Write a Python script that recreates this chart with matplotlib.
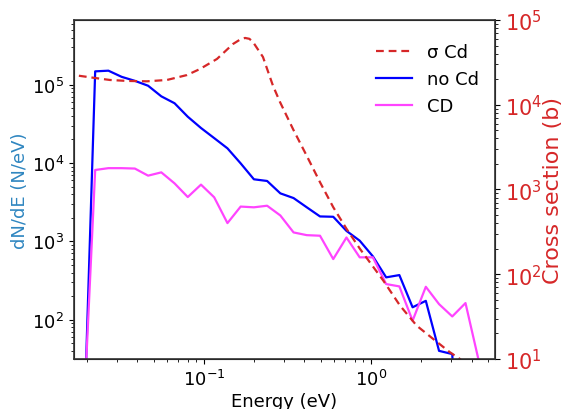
import matplotlib
matplotlib.use("Agg")
import matplotlib.pyplot as plt

# energy bins (eV)
energy = [0.01861, 0.02233, 0.02680, 0.03216, 0.03859, 0.04631, 0.05557,
          0.06668, 0.08002, 0.09602, 0.1152, 0.1383, 0.1659, 0.1991,
          0.2389, 0.2867, 0.3440, 0.4128, 0.4954, 0.5945, 0.7134, 0.8561,
          1.027, 1.233, 1.479, 1.775, 2.130, 2.556, 3.067, 3.681, 4.417]

# dN/dE without cadmium
no_cd = [0.6, 1.48e5, 1.51e5, 1.26e5, 1.12e5, 9.7e4, 7.1e4, 5.8e4, 3.9e4,
         2.8e4, 2.08e4, 1.54e4, 9.9e3, 6.2e3, 5.9e3, 4.1e3, 3.57e3, 2.72e3,
         2.08e3, 2.06e3, 1.36e3, 1.02e3, 643, 347, 371, 144, 174, 40, 36.4,
         0.01, 0.01]

# dN/dE with cadmium
cd = [2.0, 8.15e3, 8.6e3, 8.6e3, 8.5e3, 6.9e3, 7.6e3, 5.5e3, 3.68e3, 5.3e3,
      3.65e3, 1.71e3, 2.78e3, 2.72e3, 2.85e3, 2.14e3, 1.30e3, 1.2e3, 1.18e3,
      594, 1.12e3, 625, 625, 285, 266, 97, 263, 158, 110, 163, 30]

# Cd total cross section (barn)
xs_energy = [0.015, 0.01667, 0.02223, 0.02735, 0.03459, 0.0456, 0.06003,
             0.0791, 0.09466, 0.1197, 0.1493, 0.1640, 0.1762, 0.1870, 0.1966,
             0.2256, 0.2589, 0.2851, 0.3425, 0.4121, 0.4955, 0.5947, 0.7149,
             0.8596, 1.186, 1.493, 1.879, 2.36, 2.97, 3.41, 5.0]
xs_cd = [23000, 22400, 20700, 19600, 19100, 18900, 19600, 22400, 26400,
         34700, 52100, 58500, 61400, 60000, 55000, 36600, 16800, 10800, 5100,
         2505, 1217, 617, 342, 199, 84, 42.6, 24.7, 17.2, 12.0, 10, 5]

fig = plt.figure(figsize=(5.66, 4.10), dpi=100)
ax = fig.add_axes([0.1307, 0.122, 0.7439, 0.8268])
ax2 = ax.twinx()

l_nocd, = ax.plot(energy, no_cd, color="#0000ff", lw=1.6, label="no Cd")
l_cd, = ax.plot(energy, cd, color="#ff44ff", lw=1.6, label="CD")
l_xs, = ax2.plot(xs_energy, xs_cd, color="#d62728", lw=1.6,
                 ls=(0, (3.5, 2.2)), label="σ Cd")

ax.set_xscale("log")
ax.set_yscale("log")
ax2.set_yscale("log")
ax.set_xlim(0.01667, 5.53)
ax.set_ylim(31.5, 6.7e5)
ax2.set_ylim(10, 1e5)

ax.set_xlabel("Energy (eV)", fontsize=13, labelpad=2)
ax.set_ylabel("dN/dE (N/eV)", fontsize=13, color="#2f86c0", labelpad=2)
ax2.set_ylabel("Cross section (b)", fontsize=16, color="#d62728", labelpad=1)

ax.tick_params(axis="both", which="major", labelsize=13)
ax2.tick_params(axis="y", which="both", colors="black", labelcolor="#d62728",
                labelsize=15)

for sp in ax2.spines.values():
    sp.set_color("#333333")
    sp.set_linewidth(1.2)

ax2.legend([l_xs, l_nocd, l_cd], ["σ Cd", "no Cd", "CD"], loc="upper right",
           frameon=False, fontsize=13, handlelength=2.0,
           bbox_to_anchor=(1.0, 0.98))

plt.savefig("out.png", dpi=100)
plt.close()
